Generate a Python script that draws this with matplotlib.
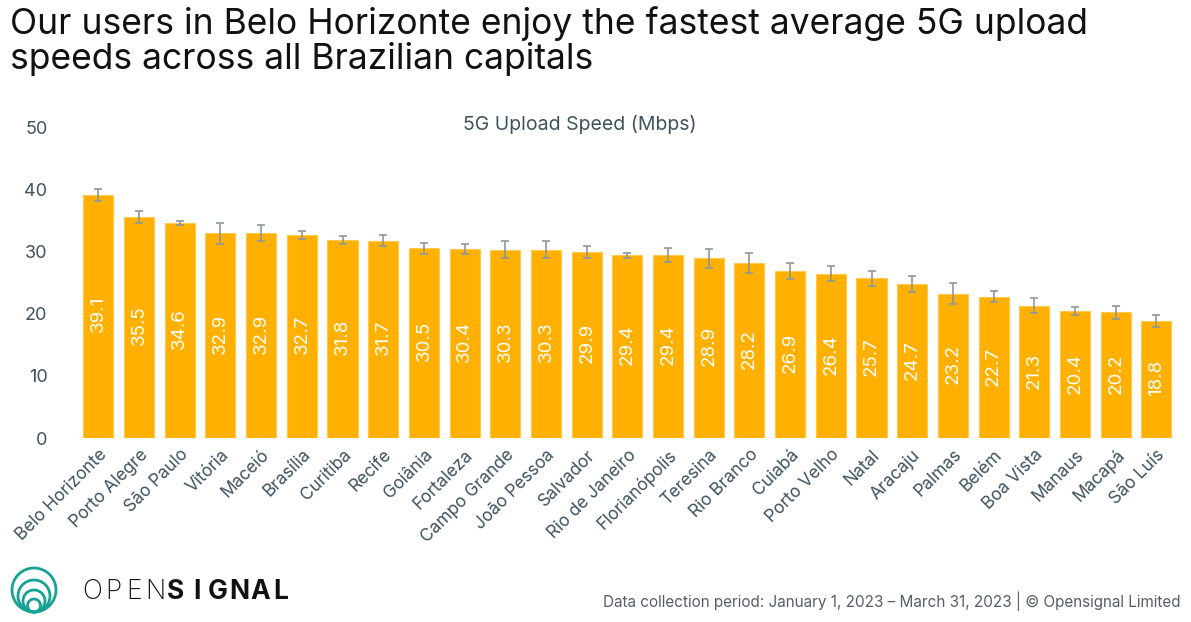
import matplotlib
matplotlib.use("Agg")
import matplotlib.pyplot as plt
from matplotlib.patches import Circle
import numpy as np

plt.rcParams['font.family'] = ['Inter', 'DejaVu Sans']

cities = ["Belo Horizonte", "Porto Alegre", "São Paulo", "Vitória", "Maceió", "Brasília",
          "Curitiba", "Recife", "Goiânia", "Fortaleza", "Campo Grande", "João Pessoa",
          "Salvador", "Rio de Janeiro", "Florianópolis", "Teresina", "Rio Branco", "Cuiabá",
          "Porto Velho", "Natal", "Aracaju", "Palmas", "Belém", "Boa Vista", "Manaus",
          "Macapá", "São Luís"]
speeds = [39.1, 35.5, 34.6, 32.9, 32.9, 32.7, 31.8, 31.7, 30.5, 30.4, 30.3, 30.3, 29.9,
          29.4, 29.4, 28.9, 28.2, 26.9, 26.4, 25.7, 24.7, 23.2, 22.7, 21.3, 20.4, 20.2, 18.8]
errors = [1.0, 1.0, 0.3, 1.7, 1.3, 0.65, 0.65, 0.9, 0.9, 0.8, 1.3, 1.3, 1.0, 0.4, 1.1,
          1.5, 1.6, 1.3, 1.2, 1.2, 1.3, 1.7, 0.9, 1.2, 0.6, 1.1, 0.9]
yticks = [0, 10, 20, 30, 40, 50]

title = "Our users in Belo Horizonte enjoy the fastest average 5G upload\nspeeds across all Brazilian capitals"
subtitle = "5G Upload Speed (Mbps)"
footer = "Data collection period: January 1, 2023 – March 31, 2023 | © Opensignal Limited"

slate = "#3e5360"
bar_color = "#FFB000"

fig = plt.figure(figsize=(11.91, 6.22), dpi=100)
ax = fig.add_axes([0.0655, 0.2958, 0.9225, 0.5])

x = np.arange(len(cities))
ax.axhline(0, color="#e3e3e3", linewidth=1.0, zorder=1)
ax.bar(x, speeds, width=0.74, color=bar_color, edgecolor="#ffc94d", linewidth=0.8, zorder=2)
ax.errorbar(x, speeds, yerr=errors, fmt='none', ecolor="#8c979c", elinewidth=1.2,
            capsize=3, capthick=1.2, zorder=3)

for xi, v in zip(x, speeds):
    ax.text(xi, v * 0.51, f"{v:.1f}", rotation=90, ha='center', va='center',
            color='white', fontsize=13.5)

ax.set_xlim(-0.5, len(cities) - 0.5)
ax.set_ylim(0, 50)
ax.set_yticks(yticks)
ax.set_yticklabels([str(t) for t in yticks], fontsize=13, color=slate)
ax.set_xticks(x)
ax.set_xticklabels(cities, rotation=45, ha='right', rotation_mode='anchor',
                   fontsize=12.5, color=slate)
ax.tick_params(axis='both', length=0)
ax.tick_params(axis='y', pad=22)
ax.tick_params(axis='x', pad=6)
for s in ax.spines.values():
    s.set_visible(False)

fig.text(0.008, 0.99, title, ha='left', va='top', fontsize=25.5, color='#111111',
         linespacing=1.02)
fig.text(0.487, 0.8, subtitle, ha='center', va='center', fontsize=14, color=slate)
fig.text(0.991, 0.018, footer, ha='right', va='bottom', fontsize=11, color='#555f66')

# logo
W, H = 1191, 622
lax = fig.add_axes([8 / W, 1 - 616 / H, 52 / W, 52 / H])
lax.set_xlim(0, 52)
lax.set_ylim(0, 52)
lax.set_aspect('equal')
lax.axis('off')
for r in [22, 16, 11, 6.5]:
    lax.add_patch(Circle((26, 4 + r), r, fill=False, edgecolor="#17a294", linewidth=2.0))

letters = list("OPENSIGNAL")
for i, ch in enumerate(letters):
    fig.text((92 + i * 21.0) / W, 1 - 592 / H, ch, ha='center', va='center', fontsize=19,
             color='#111111', fontweight=('light' if i < 4 else 'bold'))

fig.savefig("out.png", dpi=100)
